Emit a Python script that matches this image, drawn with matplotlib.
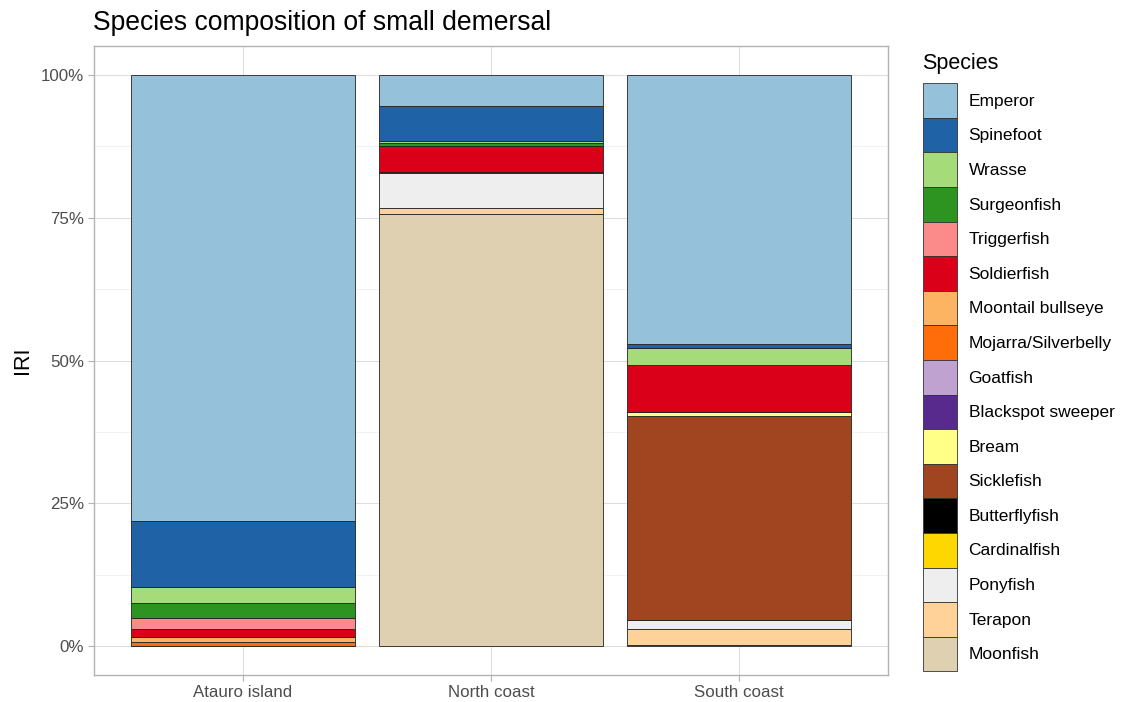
import numpy as np
import matplotlib
matplotlib.use('Agg')
from matplotlib import pyplot as plt
from matplotlib.patches import Patch

plt.rcParams['font.family'] = ['Liberation Sans', 'DejaVu Sans']

sites = ['Atauro island', 'North coast', 'South coast']
species = ['Emperor', 'Spinefoot', 'Wrasse', 'Surgeonfish', 'Triggerfish', 'Soldierfish',
           'Moontail bullseye', 'Mojarra/Silverbelly', 'Goatfish', 'Blackspot sweeper',
           'Bream', 'Sicklefish', 'Butterflyfish', 'Cardinalfish', 'Ponyfish', 'Terapon',
           'Moonfish']
colors = ['#96C1DA', '#1F62A5', '#A6DB7A', '#2E9421', '#FB8A8A', '#DA0019',
          '#FDB462', '#FF6D0A', '#BFA2CF', '#582A8E', '#FFFF87', '#A04520',
          '#000000', '#FFD700', '#EEEEEE', '#FED298', '#DED0B0']

# IRI share (%) per site, same order as species
atauro = [78.15, 11.5, 2.85, 2.57, 1.98, 1.4, 0.87, 0.7, 0, 0, 0, 0, 0, 0, 0, 0, 0]
north = [5.5, 6.1, 0.35, 0.6, 0, 4.4, 0, 0, 0.3, 0, 0, 0, 0, 0, 6.1, 1.05, 75.5]
south = [47.1, 0.76, 3.0, 0, 0, 8.15, 0, 0, 0, 0, 0.75, 35.6, 0, 0, 1.5, 2.87, 0.25]

data = np.array([atauro, north, south]) / 100.0
data = data / data.sum(axis=1, keepdims=True)

W, H = 1121, 702
fig = plt.figure(figsize=(W/100, H/100), dpi=100)
ax = fig.add_axes([94/W, 1-675/H, 794/W, 629/H])

x = np.arange(len(sites))
# ggplot stacks first level on top -> draw from last species upward
bottom = np.zeros(len(sites))
for k in range(len(species)-1, -1, -1):
    vals = data[:, k]
    ax.bar(x, vals, width=0.9, bottom=bottom, color=colors[k],
           edgecolor='#222222', linewidth=0.6, zorder=3)
    bottom += vals

ax.set_xlim(-0.6, 2.6)
ax.set_ylim(-0.05, 1.05)
ax.set_xticks(x)
ax.set_xticklabels(sites)
ax.set_yticks([0, 0.25, 0.5, 0.75, 1.0])
ax.set_yticklabels(['0%', '25%', '50%', '75%', '100%'])
ax.set_yticks([0.125, 0.375, 0.625, 0.875], minor=True)
ax.tick_params(axis='both', which='major', colors='#B3B3B3', labelcolor='#4D4D4D',
               labelsize=12.2, length=4, width=0.8, pad=3)
ax.tick_params(axis='y', which='minor', length=0)
ax.grid(True, which='major', color='#DEDEDE', linewidth=0.8, zorder=0)
ax.grid(True, which='minor', axis='y', color='#EDEDED', linewidth=0.5, zorder=0)
ax.set_axisbelow(True)
for s in ax.spines.values():
    s.set_color('#B3B3B3')
    s.set_linewidth(1.0)

ax.set_ylabel('IRI', fontsize=15.5, labelpad=6)
fig.text(93/W, 1-30.5/H, 'Species composition of small demersal', fontsize=19.1,
         va='baseline', ha='left')

# legend
fig.text(922/W, 1-69/H, 'Species', fontsize=15.5, va='baseline', ha='left')
handles = [Patch(facecolor=c, edgecolor='#333333', linewidth=0.6) for c in colors]
leg = fig.legend(handles, species, loc='upper left', bbox_to_anchor=(922.5/W, 1-83.3/H),
                 bbox_transform=fig.transFigure, frameon=False, fontsize=12.5,
                 handlelength=1.96, handleheight=2.688, labelspacing=0.0,
                 handletextpad=0.69, borderaxespad=0.0, borderpad=0.0)

fig.savefig('out.png', dpi=100)
